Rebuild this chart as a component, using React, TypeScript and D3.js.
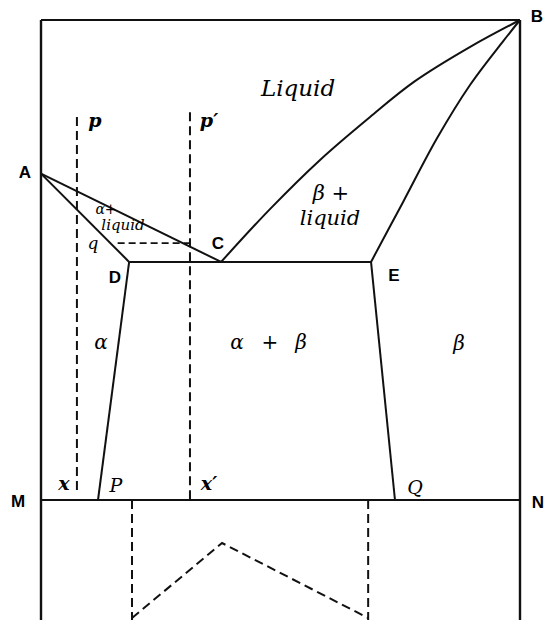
import React from "react";
import * as d3 from "d3";

// Composition (% B, 0..100) and temperature (0..100) readings
const pointA = { c: 0, t: 68 };
const eutecticT = 49.6;
const pointC = { c: 37.6, t: eutecticT };
const pointD = { c: 18.4, t: eutecticT };
const pointE = { c: 68.9, t: eutecticT };
const pointP = { c: 11.9, t: 0 };
const pointQ = { c: 73.9, t: 0 };

// Liquidus C -> B (curved)
const liquidusCB: [number, number][] = [
  [37.6, 49.6], [47.8, 60.6], [58.2, 70.8], [68.7, 79.8], [78.0, 87.2], [89.6, 94.4], [100, 100],
];
// Solidus E -> B (curved)
const solidusEB: [number, number][] = [
  [68.9, 49.6], [75.6, 62.1], [82.7, 75.4], [89.6, 86.5], [96.5, 95.6], [100, 100],
];

// Dashed construction lines
const verticalX = { c: 7.5, tTop: 79.8, tBottom: 2 };
const verticalX2 = { c: 31.1, tTop: 80.8, tBottom: 0 };
const tieQ = { t: 53.5, c1: 16, c2: 31.1 };

// Lower panel: amount of eutectic vs composition
const eutecticAmount: [number, number][] = [
  [19.0, 0], [37.8, 100], [68.3, 0],
];
const lowerVerticals = [19.0, 68.3];

const W = 546;
const H = 620;
const x = d3.scaleLinear().domain([0, 100]).range([41, 520]);
const y = d3.scaleLinear().domain([0, 100]).range([500, 20]);
const yb = d3.scaleLinear().domain([0, 100]).range([618, 543]);

const line = d3.line<[number, number]>().x((d) => x(d[0])).y((d) => y(d[1]));
const curve = d3
  .line<[number, number]>()
  .x((d) => x(d[0]))
  .y((d) => y(d[1]))
  .curve(d3.curveCatmullRom.alpha(0.5));
const lowerLine = d3.line<[number, number]>().x((d) => x(d[0])).y((d) => yb(d[1]));

const bold = { fontFamily: "'Liberation Sans', Arial, sans-serif", fontWeight: 700, fontSize: 17 };
const ital = { fontFamily: "'DejaVu Serif', 'Liberation Serif', serif", fontStyle: "italic" as const };

export default function App() {
  const stroke = "#111";
  const dash = "9 5";
  return (
    <svg
      width={W}
      height={H}
      style={{ position: "absolute", left: 0, top: 0, background: "#fff" }}
    >
      <rect x={0} y={0} width={W} height={H} fill="#fff" />
      {/* frame */}
      <line x1={x(0)} y1={y(100)} x2={x(100)} y2={y(100)} stroke={stroke} strokeWidth={2.2} />
      <line x1={x(0)} y1={y(100)} x2={x(0)} y2={H} stroke={stroke} strokeWidth={2.4} />
      <line x1={x(100)} y1={y(100)} x2={x(100)} y2={H} stroke={stroke} strokeWidth={2.4} />
      <line x1={x(0)} y1={y(0)} x2={x(100)} y2={y(0)} stroke={stroke} strokeWidth={2.2} />

      {/* liquidus / solidus */}
      <path d={line([[pointA.c, pointA.t], [pointC.c, pointC.t]]) || ""} fill="none" stroke={stroke} strokeWidth={2} />
      <path d={line([[pointA.c, pointA.t], [pointD.c, pointD.t]]) || ""} fill="none" stroke={stroke} strokeWidth={2} />
      <path d={line([[pointD.c, pointD.t], [pointE.c, pointE.t]]) || ""} fill="none" stroke={stroke} strokeWidth={2} />
      <path d={curve(liquidusCB) || ""} fill="none" stroke={stroke} strokeWidth={2} />
      <path d={curve(solidusEB) || ""} fill="none" stroke={stroke} strokeWidth={2} />
      <path d={line([[pointD.c, pointD.t], [pointP.c, pointP.t]]) || ""} fill="none" stroke={stroke} strokeWidth={2} />
      <path d={line([[pointE.c, pointE.t], [pointQ.c, pointQ.t]]) || ""} fill="none" stroke={stroke} strokeWidth={2} />

      {/* dashed construction */}
      <line x1={x(verticalX.c)} y1={y(verticalX.tTop)} x2={x(verticalX.c)} y2={y(verticalX.tBottom)} stroke={stroke} strokeWidth={2} strokeDasharray={dash} />
      <line x1={x(verticalX2.c)} y1={y(verticalX2.tTop)} x2={x(verticalX2.c)} y2={y(verticalX2.tBottom)} stroke={stroke} strokeWidth={2} strokeDasharray={dash} />
      <line x1={x(tieQ.c1)} y1={y(tieQ.t)} x2={x(tieQ.c2)} y2={y(tieQ.t)} stroke={stroke} strokeWidth={1.8} strokeDasharray="7 4" />

      {/* lower panel */}
      {lowerVerticals.map((c) => (
        <line key={c} x1={x(c)} y1={y(0)} x2={x(c)} y2={H} stroke={stroke} strokeWidth={2} strokeDasharray={dash} />
      ))}
      <path d={lowerLine(eutecticAmount) || ""} fill="none" stroke={stroke} strokeWidth={2} strokeDasharray={dash} />

      {/* point labels */}
      <text x={25} y={178} textAnchor="middle" {...bold}>A</text>
      <text x={537} y={22} textAnchor="middle" {...bold}>B</text>
      <text x={218} y={249} textAnchor="middle" {...bold}>C</text>
      <text x={115} y={283} textAnchor="middle" {...bold}>D</text>
      <text x={394} y={281} textAnchor="middle" {...bold}>E</text>
      <text x={18} y={507} textAnchor="middle" {...bold}>M</text>
      <text x={538} y={508} textAnchor="middle" {...bold}>N</text>

      <text x={116} y={492} textAnchor="middle" fontSize={19} {...ital}>P</text>
      <text x={415} y={494} textAnchor="middle" fontSize={19} {...ital}>Q</text>
      <text x={64} y={490} textAnchor="middle" fontSize={19} fontWeight={700} {...ital}>x</text>
      <text x={209} y={490} textAnchor="middle" fontSize={19} fontWeight={700} {...ital}>x′</text>
      <text x={95} y={127} textAnchor="middle" fontSize={19} fontWeight={700} {...ital}>p</text>
      <text x={209} y={127} textAnchor="middle" fontSize={19} fontWeight={700} {...ital}>p′</text>
      <text x={93} y={249} textAnchor="middle" fontSize={17} {...ital}>q</text>

      {/* region labels */}
      <text x={106} y={214} textAnchor="middle" fontSize={14} {...ital}>α+</text>
      <text x={123} y={230} textAnchor="middle" fontSize={15} {...ital}>liquid</text>
      <text x={298} y={96} textAnchor="middle" fontSize={23} {...ital}>Liquid</text>
      <text x={331} y={200} textAnchor="middle" fontSize={21} {...ital}>β +</text>
      <text x={330} y={225} textAnchor="middle" fontSize={21} {...ital}>liquid</text>
      <text x={101} y={349} textAnchor="middle" fontSize={20} {...ital}>α</text>
      <text x={237} y={349} textAnchor="middle" fontSize={20} {...ital}>α</text>
      <text x={270} y={349} textAnchor="middle" fontSize={20} {...ital}>+</text>
      <text x={301} y={349} textAnchor="middle" fontSize={20} {...ital}>β</text>
      <text x={459} y={350} textAnchor="middle" fontSize={20} {...ital}>β</text>
    </svg>
  );
}
